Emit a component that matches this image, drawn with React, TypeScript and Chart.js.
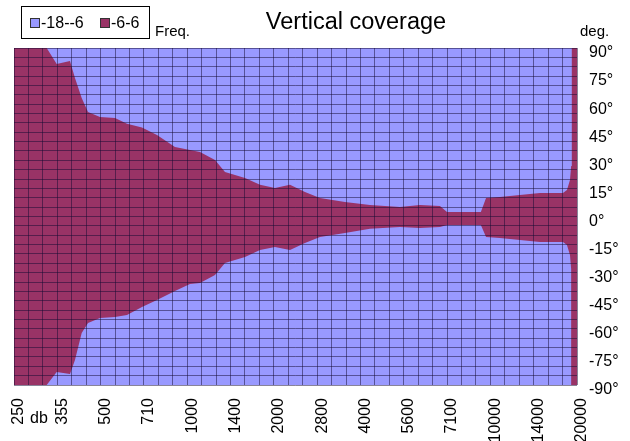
import React, { useEffect, useRef } from "react";
import { Chart, registerables } from "chart.js";

Chart.register(...registerables);

// Frequency tick labels (Hz), evenly spaced on the axis
const freqLabels = ["250", "355", "500", "710", "1000", "1400", "2000", "2800", "4000", "5600", "7100", "10000", "14000", "20000"];
// Grid subdivisions between frequency labels
const colsPerLabel = 3;
// Angle axis (degrees)
const angleMin = -90;
const angleMax = 90;
const angleGridStep = 5;
const angleLabelStep = 15;

// Boundary of the -6..6 dB region: position along the frequency axis (label index units)
const edgeX = [0, 0.755, 0.986, 1.293, 1.408, 1.563, 1.709, 1.986, 2.332, 2.609, 2.955, 3.302, 3.717, 4.064, 4.295, 4.641, 4.872, 5.334, 5.68, 6.026, 6.373, 6.719, 7.065, 7.642, 8.22, 8.912, 9.374, 9.836, 9.998, 10.78, 10.9, 11.22, 12.145, 12.676, 12.768, 12.838, 12.865, 12.88, 13];
// Upper edge of the -6..6 region (deg)
const upperDeg = [90, 90, 81.5, 83, 74, 63.3, 55.8, 53.1, 52.6, 49.5, 47.5, 43.5, 37.1, 35.5, 34.5, 30.2, 23.8, 20.6, 16.9, 15.2, 16.9, 13.1, 9.9, 7.7, 6.1, 5.1, 6.1, 5.6, 2.4, 2.4, 9.9, 10.4, 12.6, 12.6, 14.2, 19.5, 27, 90, 90];
// Lower edge of the -6..6 region (deg)
const lowerDeg = [-90, -90, -83, -84.1, -76.6, -62.2, -56.9, -54.2, -53.7, -52.6, -48.3, -44.6, -39.8, -36, -35.5, -31.2, -24.8, -21.6, -17.9, -16.3, -17.9, -14.2, -10.9, -8.8, -6.6, -5.6, -6.1, -5.6, -4.5, -4.5, -10.9, -11.5, -13.6, -13.6, -15.2, -20.6, -28, -90, -90];

const seriesNames = ["-18--6", "-6-6"];
const colorLow = "#9999FF";
const colorHigh = "#993366";
const gridColor = "rgba(20,10,50,0.5)";
const FONT = '"Liberation Sans", Arial, sans-serif';

const bgPlugin = {
  id: "plotBg",
  beforeDatasetsDraw(chart: any) {
    const { ctx, chartArea } = chart;
    ctx.save();
    ctx.fillStyle = colorLow;
    ctx.fillRect(chartArea.left, chartArea.top, chartArea.right - chartArea.left, chartArea.bottom - chartArea.top);
    ctx.restore();
  },
};

const textPlugin = {
  id: "annotTexts",
  afterDraw(chart: any) {
    const { ctx } = chart;
    ctx.save();
    ctx.fillStyle = "#000";
    ctx.textBaseline = "alphabetic";
    // title
    ctx.font = `23.5px ${FONT}`;
    ctx.textAlign = "center";
    ctx.fillText("Vertical coverage", 356, 29);
    // legend box
    ctx.strokeStyle = "#000";
    ctx.lineWidth = 1;
    ctx.strokeRect(21.5, 6.5, 128, 32);
    ctx.textAlign = "left";
    ctx.font = `16px ${FONT}`;
    const items = [
      { x: 30, color: colorLow, label: seriesNames[0] },
      { x: 100, color: colorHigh, label: seriesNames[1] },
    ];
    items.forEach((it) => {
      ctx.fillStyle = it.color;
      ctx.fillRect(it.x, 18, 10, 10);
      ctx.strokeStyle = "#333";
      ctx.strokeRect(it.x + 0.5, 18.5, 9, 9);
      ctx.fillStyle = "#000";
      ctx.fillText(it.label, it.x + 11, 28);
    });
    ctx.font = `15px ${FONT}`;
    ctx.fillText("Freq.", 155, 36);
    ctx.fillText("deg.", 580, 36);
    ctx.font = `16px ${FONT}`;
    ctx.fillText("db", 30, 423);
    ctx.restore();
  },
};

export default function App() {
  const ref = useRef<HTMLCanvasElement | null>(null);

  useEffect(() => {
    if (!ref.current) return;
    const chart = new Chart(ref.current, {
      type: "line",
      data: {
        datasets: [
          {
            label: seriesNames[1],
            data: edgeX.map((x, i) => ({ x, y: upperDeg[i] })),
            borderWidth: 0,
            pointRadius: 0,
            backgroundColor: colorHigh,
            borderColor: colorHigh,
            fill: "+1",
            tension: 0,
          },
          {
            label: "lower",
            data: edgeX.map((x, i) => ({ x, y: lowerDeg[i] })),
            borderWidth: 0,
            pointRadius: 0,
            backgroundColor: colorHigh,
            borderColor: colorHigh,
            fill: false,
            tension: 0,
          },
        ],
      },
      options: {
        animation: false,
        responsive: true,
        maintainAspectRatio: false,
        layout: { padding: { left: 14, top: 48, right: 0, bottom: 0 } },
        plugins: {
          legend: { display: false },
          title: { display: false },
          tooltip: { enabled: false },
        },
        scales: {
          x: {
            type: "linear",
            min: 0,
            max: freqLabels.length - 1,
            afterBuildTicks: (scale: any) => {
              const n = (freqLabels.length - 1) * colsPerLabel;
              const t = [];
              for (let k = 0; k <= n; k++) t.push({ value: k / colsPerLabel });
              scale.ticks = t;
            },
            afterFit: (scale: any) => {
              scale.height = 56;
            },
            grid: { color: gridColor, lineWidth: 1, drawTicks: false, z: 1 },
            border: { display: false },
            ticks: {
              autoSkip: false,
              maxRotation: 90,
              minRotation: 90,
              padding: 13,
              labelOffset: 5,
              color: "#000",
              font: { size: 16, family: FONT },
              callback: (v: any) => {
                const i = Math.round(v);
                return Math.abs(v - i) < 1e-6 ? freqLabels[i] : "";
              },
            },
          },
          y: {
            type: "linear",
            position: "right",
            min: angleMin,
            max: angleMax,
            afterBuildTicks: (scale: any) => {
              const t = [];
              for (let v = angleMax; v >= angleMin; v -= angleGridStep) t.push({ value: v });
              scale.ticks = t.reverse();
            },
            afterFit: (scale: any) => {
              scale.width = 53;
            },
            grid: { color: gridColor, lineWidth: 1, drawTicks: false, z: 1 },
            border: { display: false },
            ticks: {
              autoSkip: false,
              padding: 12,
              labelOffset: 5,
              color: "#000",
              font: { size: 16, family: FONT },
              callback: (v: any) => (Math.round(v) % angleLabelStep === 0 ? `${Math.round(v)}°` : ""),
            },
          },
        },
      },
      plugins: [bgPlugin, textPlugin],
    } as any);
    return () => chart.destroy();
  }, []);

  return (
    <div style={{ position: "absolute", left: 0, top: 0, width: 630, height: 441 }}>
      <canvas ref={ref} />
    </div>
  );
}
